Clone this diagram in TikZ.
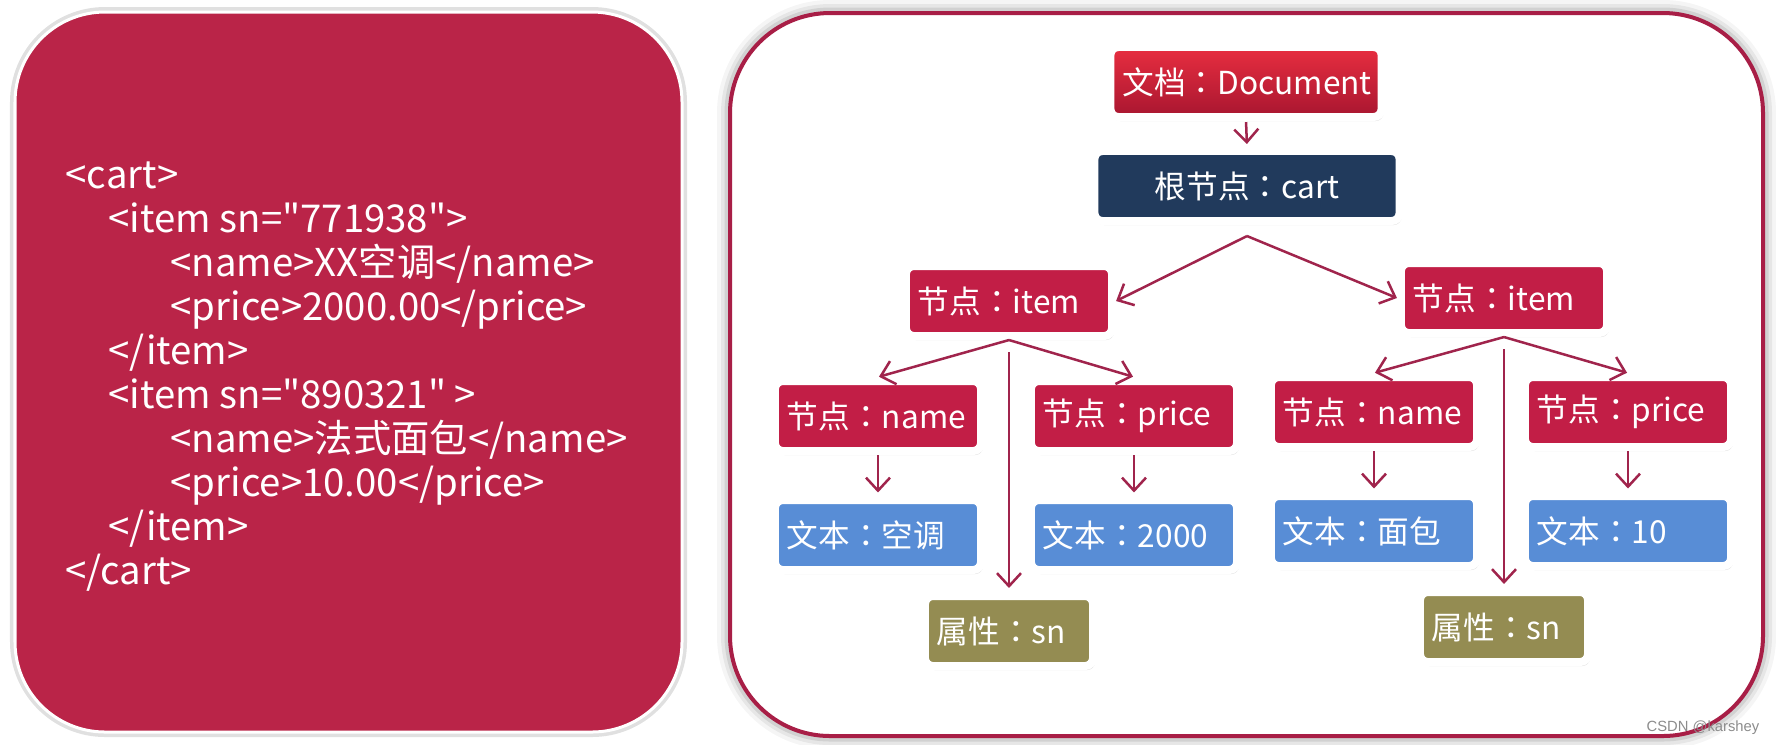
\documentclass[tikz,border=0pt]{standalone}
\usepackage{fontspec}
\setmainfont{Noto Sans CJK SC}[Ligatures=TeXOff]
\newfontfamily\colonfont{Noto Sans CJK JP}
\newfontfamily\markfont{Liberation Sans}
\newcommand\fwcolon{{\colonfont ：}}
\usepackage{tikz}
\usetikzlibrary{arrows.meta,shadows}
\definecolor{panelred}{RGB}{186,36,72}
\definecolor{framered}{RGB}{168,30,70}
\definecolor{itemred}{RGB}{194,30,70}
\definecolor{doclight}{RGB}{232,46,64}
\definecolor{docdark}{RGB}{168,22,48}
\definecolor{rootblue}{RGB}{33,58,92}
\definecolor{textblue}{RGB}{88,141,214}
\definecolor{attrolive}{RGB}{148,140,82}
\definecolor{arrowred}{RGB}{160,36,76}

\begin{document}
\begin{tikzpicture}[x=0.01cm,y=-0.01cm,
  xmlline/.style={anchor=base west,text=white,inner sep=0pt,font=\fontsize{10.9}{12}\selectfont},
  tnode/.style 2 args={rectangle,rounded corners=0.8mm,draw=white,line width=0.8mm,fill=#1,text=white,
    text width=#2,align=left,minimum height=7mm,inner xsep=1.2mm,inner ysep=0pt,
    font=\fontsize{9}{10}\selectfont,drop shadow={shadow xshift=0.2mm,shadow yshift=-0.4mm,opacity=0.25}},
  arr/.style={draw=arrowred,line width=0.25mm,-{Straight Barb[length=1.3mm,width=2.4mm]}}]
\useasboundingbox (0,0) rectangle (1776,744);
\fill[white] (0,0) rectangle (1776,744);

\draw[black,opacity=0.12,line width=1mm,rounded corners=9mm] (15,12) rectangle (682,732);
\draw[fill=panelred,draw=white,line width=0.3mm,rounded corners=9mm] (15,12) rectangle (682,732);
\foreach \w/\o in {2.6/0.04,1.8/0.06,1.1/0.09}
  \draw[black,opacity=\o,line width=\w mm,rounded corners=10mm] (730,13) rectangle (1763,736);
\draw[framered,fill=white,line width=0.4mm,rounded corners=10mm] (730,13) rectangle (1763,736);

\foreach \n/\x/\t in {1/65/{<cart>},2/108/{<item sn="771938">},3/170/{<name>XX空调</name>},
  4/170/{<price>2000.00</price>},5/108/{</item>},6/108/{<item sn="890321" >},
  7/170/{<name>法式面包</name>},8/170/{<price>10.00</price>},9/108/{</item>},10/65/{</cart>}}
  \node[xmlline] (line\n) at (\x,144+44*\n) {\t};

\node[tnode={doclight}{24.7mm},top color=doclight,bottom color=docdark,align=center] (doc) at (1246,82) {文档\fwcolon Document};
\node[tnode={rootblue}{28.1mm},align=center] (root) at (1247,186) {根节点\fwcolon cart};
\node[tnode={itemred}{18.2mm}] (itemL) at (1009,301) {节点\fwcolon item};
\node[tnode={itemred}{18.2mm}] (itemR) at (1504,298) {节点\fwcolon item};
\node[tnode={itemred}{18.2mm}] (nameL) at (878,416) {节点\fwcolon name};
\node[tnode={itemred}{18.2mm}] (priceL) at (1134,416) {节点\fwcolon price};
\node[tnode={textblue}{18.2mm}] (textL1) at (878,535) {文本\fwcolon 空调};
\node[tnode={textblue}{18.2mm}] (textL2) at (1134,535) {文本\fwcolon 2000};
\node[tnode={attrolive}{14.4mm}] (attrL) at (1009,631) {属性\fwcolon sn};
\node[tnode={itemred}{18.2mm}] (nameR) at (1374,412) {节点\fwcolon name};
\node[tnode={itemred}{18.2mm}] (priceR) at (1628,412) {节点\fwcolon price};
\node[tnode={textblue}{18.2mm}] (textR1) at (1374,531) {文本\fwcolon 面包};
\node[tnode={textblue}{18.2mm}] (textR2) at (1628,531) {文本\fwcolon 10};
\node[tnode={attrolive}{14.4mm}] (attrR) at (1504,627) {属性\fwcolon sn};
\node[text=black!45,font=\markfont\fontsize{4.2}{5}\selectfont,anchor=east,inner sep=0pt] (mark) at (1760,728) {CSDN @karshey};

\coordinate (rfork) at ([yshift=-1.1mm]root.south);
\draw[arr,shorten <=0.1mm,shorten >=0.3mm] (doc.south) -- (root.north);
\draw[arr] (rfork) -- (itemL.east);
\draw[arr] (rfork) -- (itemR.west);
\foreach \s in {L,R} {
  \draw[arr,shorten >=0.1mm] (item\s.south) -- (name\s.north);
  \draw[arr,shorten >=0.1mm] (item\s.south) -- (price\s.north);
  \draw[arr,shorten <=1.2mm,shorten >=0.4mm] (item\s.south) -- (attr\s.north);
  \draw[arr,shorten >=0.35mm] (name\s.south) -- (text\s1.north);
  \draw[arr,shorten >=0.35mm] (price\s.south) -- (text\s2.north);
}
\end{tikzpicture}
\end{document}
